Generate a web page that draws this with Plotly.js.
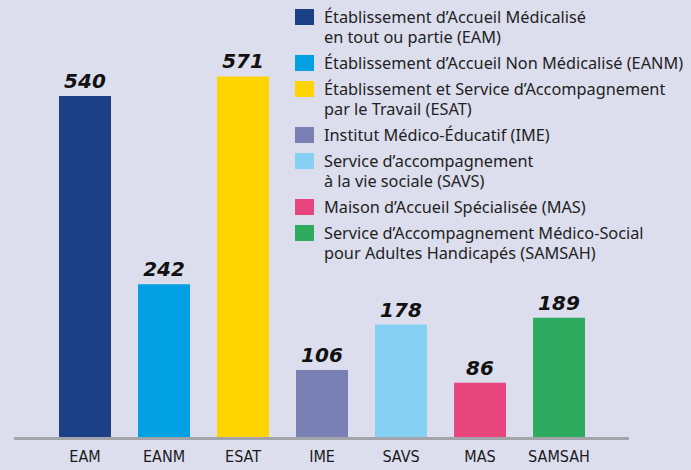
<!DOCTYPE html>
<html>
<head>
<meta charset="utf-8">
<script src="https://cdn.plot.ly/plotly-3.0.1.min.js"></script>
<style>html,body{margin:0;padding:0;background:#dcdeee;}#chart{width:691px;height:470px;}</style>
</head>
<body>
<div id="chart"></div>
<script>
// ---- data ----
var categories = ["EAM", "EANM", "ESAT", "IME", "SAVS", "MAS", "SAMSAH"];
var values = [540, 242, 571, 106, 178, 86, 189];
var legendNames = [
  "Établissement d’Accueil Médicalisé<br>en tout ou partie (EAM)",
  "Établissement d’Accueil Non Médicalisé (EANM)",
  "Établissement et Service d’Accompagnement<br>par le Travail (ESAT)",
  "Institut Médico-Éducatif (IME)",
  "Service d’accompagnement<br>à la vie sociale (SAVS)",
  "Maison d’Accueil Spécialisée (MAS)",
  "Service d’Accompagnement Médico-Social<br>pour Adultes Handicapés (SAMSAH)"
];
var colors = ["#1b4086", "#00a0e3", "#ffd400", "#7a80b4", "#85d0f3", "#e6467c", "#2eab5f"];

// ---- layout helpers ----
var W = 691, H = 470;
var mL = 14, mR = 62, mT = 10, mB = 33;
var pw = W - mL - mR, ph = H - mT - mB;
function px2x(px) { return (px - mL) / pw; }
function py2y(py) { return (H - mB - py) / ph; }

var trace = {
  type: "bar",
  x: categories,
  y: values,
  marker: { color: colors },
  text: values.map(String),
  textposition: "outside",
  constraintext: "none",
  cliponaxis: false,
  textfont: { family: "DejaVu Sans", size: 20, color: "#111", weight: "bold", style: "italic" },
  hoverinfo: "x+y",
  showlegend: false
};

var shapes = [];
var annotations = [];
var lineH = 20, itemGap = 6;
var cy = 17;
for (var i = 0; i < legendNames.length; i++) {
  var lines = legendNames[i].split("<br>");
  shapes.push({
    type: "rect", xref: "paper", yref: "paper",
    x0: px2x(295), x1: px2x(314),
    y0: py2y(cy - 8), y1: py2y(cy + 8),
    fillcolor: colors[i], line: { width: 0 }
  });
  for (var j = 0; j < lines.length; j++) {
    annotations.push({
      xref: "paper", yref: "paper",
      x: px2x(322), y: py2y(cy + j * lineH),
      xanchor: "left", yanchor: "middle",
      text: lines[j], showarrow: false,
      font: { family: "Noto Sans", size: 16.3, color: "#222" }
    });
  }
  cy += lines.length * lineH + itemGap;
}

var layout = {
  width: W, height: H,
  margin: { l: mL, r: mR, t: mT, b: mB, pad: 0 },
  paper_bgcolor: "#dcdeee",
  plot_bgcolor: "#dcdeee",
  bargap: 0.342,
  xaxis: {
    type: "category",
    range: [-0.899, 6.886],
    showline: true, linecolor: "#a3a3aa", linewidth: 3,
    ticks: "outside", ticklen: 3, tickcolor: "rgba(0,0,0,0)",
    tickfont: { family: "DejaVu Sans Condensed, Roboto", size: 16, color: "#1a1a1a", stretch: "condensed" },
    showgrid: false, zeroline: false, fixedrange: true
  },
  yaxis: {
    range: [0, ph / 0.6315],
    visible: false, showgrid: false, zeroline: false, fixedrange: true
  },
  shapes: shapes,
  annotations: annotations,
  showlegend: false
};

Plotly.newPlot("chart", [trace], layout, { displayModeBar: false, staticPlot: true });
</script>
</body>
</html>
